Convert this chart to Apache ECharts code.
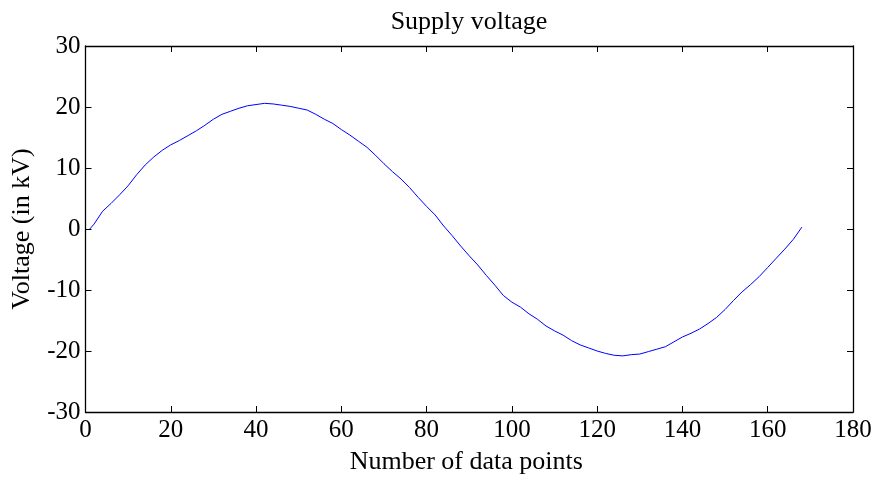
<!DOCTYPE html>
<html>
<head>
<meta charset="utf-8">
<script src="https://cdn.jsdelivr.net/npm/echarts@6/dist/echarts.min.js"></script>
<style>
  html, body { margin: 0; padding: 0; background: #fff; }
  #chart { width: 878px; height: 481px; }
</style>
</head>
<body>
<div id="chart"></div>
<script>
// Sample index and measured supply voltage (kV)
const sampleIndex = [1, 2, 4, 6, 8, 10, 12, 14, 16, 18, 20, 22, 24, 26, 28, 30, 32, 34, 36, 38,
  40, 42, 44, 46, 48, 50, 52, 54, 56, 58, 60, 62, 64, 66, 68, 70, 72, 74, 76, 78,
  80, 82, 84, 86, 88, 90, 92, 94, 96, 98, 100, 102, 104, 106, 108, 110, 112, 114, 116, 118,
  120, 122, 124, 126, 128, 130, 132, 134, 136, 138, 140, 142, 144, 146, 148, 150, 152, 154, 156, 158,
  160, 162, 164, 166, 168];
const voltageKV = [0.0, 0.8, 2.9, 4.2, 5.6, 7.1, 8.9, 10.5, 11.8, 12.9, 13.8, 14.5, 15.3, 16.1, 17.0, 18.0, 18.8, 19.3, 19.8, 20.2,
  20.4, 20.6, 20.5, 20.3, 20.1, 19.8, 19.5, 18.8, 18.0, 17.3, 16.3, 15.4, 14.4, 13.4, 12.1, 10.7, 9.4, 8.2, 6.8, 5.2,
  3.7, 2.3, 0.5, -1.1, -2.8, -4.4, -5.9, -7.6, -9.2, -10.9, -12.0, -12.8, -13.9, -14.8, -15.9, -16.7, -17.4, -18.3, -19.0, -19.5,
  -20.0, -20.4, -20.7, -20.8, -20.6, -20.5, -20.1, -19.7, -19.3, -18.5, -17.7, -17.1, -16.4, -15.5, -14.5, -13.2, -11.7, -10.3, -9.1, -7.8,
  -6.3, -4.8, -3.3, -1.7, 0.3];

const xTicks = { min: 0, max: 180, interval: 20 };
const yTicks = { min: -30, max: 30, interval: 10 };

const titleText = 'Supply voltage';
const xName = 'Number of data points';
const yName = 'Voltage (in kV)';

const FONT = '"Liberation Serif", "Times New Roman", serif';
const axisLine = { show: true, onZero: false, lineStyle: { color: '#000', width: 1.3 } };
const tickIn = { show: true, inside: true, length: 6, lineStyle: { color: '#000', width: 1 } };

const chart = echarts.init(document.getElementById('chart'), null, { renderer: 'canvas' });
chart.setOption({
  animation: false,
  backgroundColor: '#fff',
  title: {
    text: titleText,
    left: 464, top: 4, textAlign: 'center',
    textStyle: { fontFamily: FONT, fontSize: 26, fontWeight: 'normal', color: '#000' }
  },
  grid: { left: 85.5, right: 25, top: 46, bottom: 69, containLabel: false, outerBoundsMode: 'none' },
  xAxis: [
    {
      type: 'value', position: 'bottom', ...xTicks,
      name: xName, nameLocation: 'middle', nameGap: 37,
      nameTextStyle: { fontFamily: FONT, fontSize: 26, color: '#000', padding: [0, 6, 0, 0] },
      axisLine, axisTick: tickIn, splitLine: { show: false },
      axisLabel: { fontFamily: FONT, fontSize: 25, color: '#000', margin: 6 }
    },
    {
      type: 'value', position: 'top', ...xTicks,
      axisLine, axisTick: tickIn, splitLine: { show: false },
      axisLabel: { show: false }
    }
  ],
  yAxis: [
    {
      type: 'value', position: 'left', ...yTicks,
      name: yName, nameLocation: 'middle', nameGap: 50,
      nameTextStyle: { fontFamily: FONT, fontSize: 26, color: '#000' },
      axisLine, axisTick: tickIn, splitLine: { show: false },
      axisLabel: { fontFamily: FONT, fontSize: 25, color: '#000', margin: 5 }
    },
    {
      type: 'value', position: 'right', ...yTicks,
      axisLine, axisTick: tickIn, splitLine: { show: false },
      axisLabel: { show: false }
    }
  ],
  series: [{
    type: 'line',
    xAxisIndex: 0, yAxisIndex: 0,
    data: sampleIndex.map((x, i) => [x, voltageKV[i]]),
    showSymbol: false,
    lineStyle: { color: '#0000ff', width: 1 },
    z: 1
  }]
});
</script>
</body>
</html>
